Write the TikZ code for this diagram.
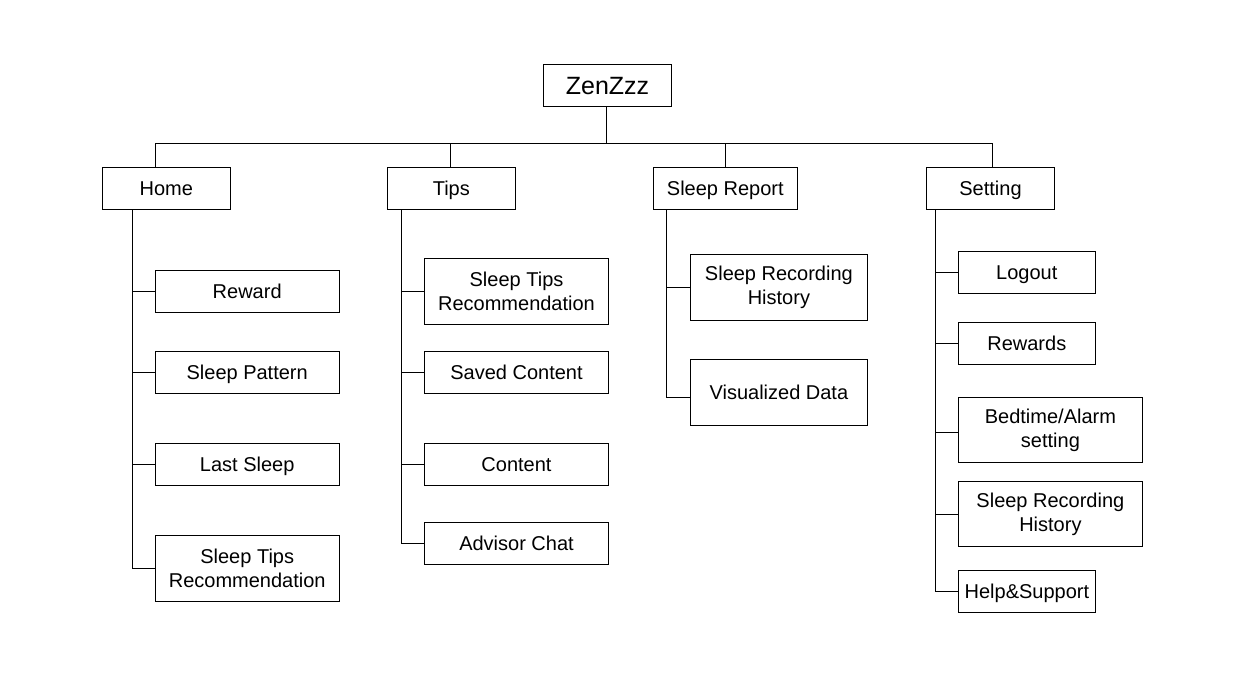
\documentclass[tikz,border=0pt]{standalone}
\usepackage{fontspec}
\setmainfont{Liberation Sans}
\usetikzlibrary{calc}
\tikzset{
  box/.style={draw, line width=1pt, minimum height=42pt, inner sep=0pt, align=center,
    font=\fontsize{20}{24}\selectfont},
  one/.style={text height=18.4pt, text depth=4.2pt},
  tall/.style={minimum height=66pt},
  link/.style={line width=1pt}
}
\begin{document}
\begin{tikzpicture}[x=1pt,y=-1pt]
\useasboundingbox (0,0) rectangle (1244,676);
% top levels
\node[box, minimum width=128pt, font=\fontsize{25}{30}\selectfont, text height=22.9pt, text depth=5pt] (root) at (607.5,85.2) {ZenZzz};
\node[box, one, minimum width=128pt] (home) at (166.3,188.3) {Home};
\node[box, one, minimum width=128pt] (tips) at (451.3,188.3) {Tips};
\node[box, one, minimum width=144pt] (report) at (725.3,188.3) {Sleep Report};
\node[box, one, minimum width=128pt] (setting) at (990.5,188.3) {Setting};
% bus
\coordinate (b1) at (155.3,143.5);
\coordinate (b2) at (450.3,143.5);
\coordinate (b3) at (725.3,143.5);
\coordinate (b4) at (992.3,143.5);
\coordinate (b0) at (606.5,143.5);
\draw[link] (root.south -| b0) -- (b0);
\draw[link] (b1) -- (b4);
\draw[link] (b1) -- (b1 |- home.north);
\draw[link] (b2) -- (b2 |- tips.north);
\draw[link] (b3) -- (b3 |- report.north);
\draw[link] (b4) -- (b4 |- setting.north);
% Home children
\node[box, one, minimum width=184pt] (h1) at (247.2,291.2) {Reward};
\node[box, one, minimum width=184pt] (h2) at (247.2,372.5) {Sleep Pattern};
\node[box, one, minimum width=184pt] (h3) at (247.2,464.3) {Last Sleep};
\node[box, tall, minimum width=184pt] (h4) at (247.2,568.3) {Sleep Tips\\Recommendation};
\coordinate (hs) at (132.3,0);
\draw[link] (hs |- home.south) -- (hs |- h4.west) -- (h4.west);
\foreach \n in {h1,h2,h3} \draw[link] (hs |- \n.west) -- (\n.west);
% Tips children
\node[box, tall, minimum width=184pt] (t1) at (516.5,291.2) {Sleep Tips\\Recommendation};
\node[box, one, minimum width=184pt] (t2) at (516.5,372.5) {Saved Content};
\node[box, one, minimum width=184pt] (t3) at (516.5,464.3) {Content};
\node[box, one, minimum width=184pt] (t4) at (516.5,543.3) {Advisor Chat};
\coordinate (ts) at (401.5,0);
\draw[link] (ts |- tips.south) -- (ts |- t4.west) -- (t4.west);
\foreach \n in {t1,t2,t3} \draw[link] (ts |- \n.west) -- (\n.west);
% Sleep Report children
\node[box, tall, minimum width=177.5pt] (r1) at (778.9,287.3) {Sleep Recording\\History};
\node[box, one, tall, minimum width=177.5pt] (r2) at (778.9,392.5) {Visualized Data};
\coordinate (rs) at (666.7,0);
\coordinate (r2c) at ($(r2.west)+(0,4.8)$);
\draw[link] (rs |- report.south) -- (rs |- r2c) -- (r2c);
\draw[link] (rs |- r1.west) -- (r1.west);
% Setting children
\node[box, one, minimum width=137pt] (s1) at (1026.8,272.3) {Logout};
\node[box, one, minimum width=137pt] (s2) at (1026.8,343.3) {Rewards};
\node[box, minimum width=184pt, minimum height=65.4pt] (s3) at (1050.4,430) {Bedtime/Alarm\\setting};
\node[box, minimum width=184pt, minimum height=65pt] (s4) at (1050.4,514.2) {Sleep Recording\\History};
\node[box, one, minimum width=137pt] (s5) at (1026.9,591.2) {Help\&Support};
\coordinate (ss) at (935.7,0);
\coordinate (s3c) at ($(s3.west)+(0,2.7)$);
\draw[link] (ss |- setting.south) -- (ss |- s5.west) -- (s5.west);
\draw[link] (ss |- s3c) -- (s3c);
\foreach \n in {s1,s2,s4} \draw[link] (ss |- \n.west) -- (\n.west);
\end{tikzpicture}
\end{document}
